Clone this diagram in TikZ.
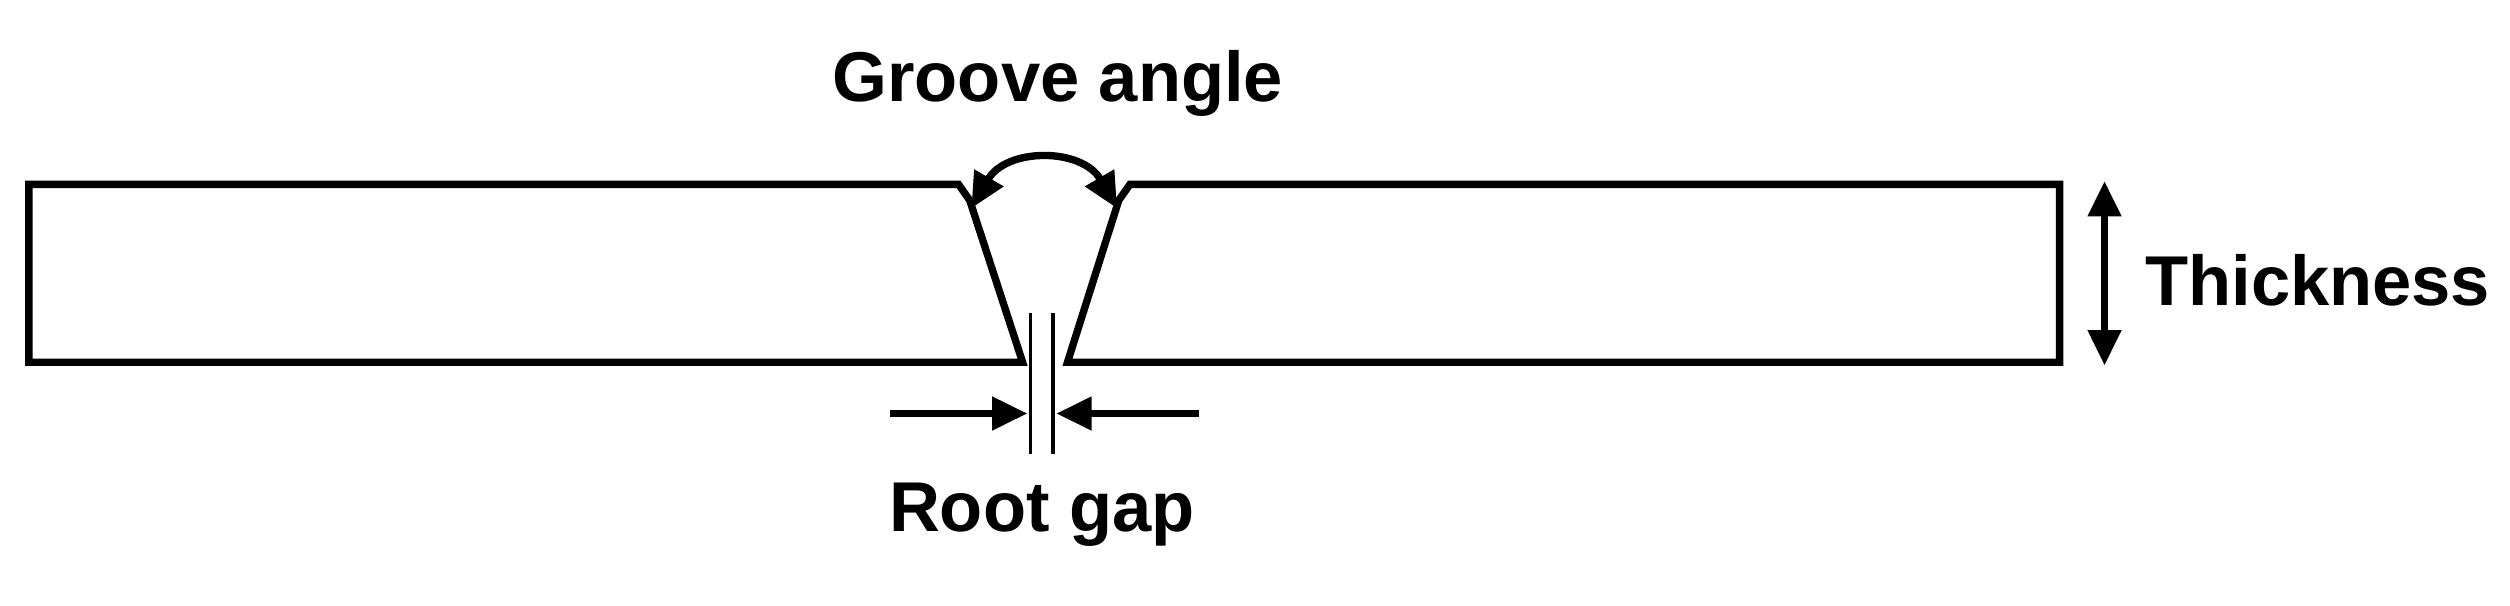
\documentclass[tikz,border=0pt]{standalone}
\usepackage{fontspec}
\setmainfont{Liberation Sans}
\usetikzlibrary{arrows.meta}
\begin{document}
\begin{tikzpicture}[x=0.5pt,y=-0.5pt,
  plate/.style={line width=2.3pt,line join=miter},
  dim/.style={line width=2.3pt,-{Triangle[length=11pt,width=10pt]}},
  dimb/.style={line width=2.3pt,{Triangle[length=11pt,width=10pt]}-{Triangle[length=11pt,width=10pt]}},
  lbl/.style={font=\fontsize{22}{26}\selectfont\bfseries,inner sep=0pt}]
\useasboundingbox (0,0) rectangle (1566,378);
\coordinate (L1) at (18,115); \coordinate (L2) at (598,115); \coordinate (L3) at (605,125);
\coordinate (L4) at (638,226); \coordinate (L5) at (18,226);
\coordinate (R1) at (1285,115); \coordinate (R2) at (705,115); \coordinate (R3) at (698,125);
\coordinate (R4) at (666,226); \coordinate (R5) at (1285,226);
\draw[plate] (L2) -- (L1) -- (L5) -- (L4) -- (L3) -- cycle;
\draw[plate] (R2) -- (R1) -- (R5) -- (R4) -- (R3) -- cycle;
\coordinate (A1) at (606,130); \coordinate (A2) at (697,130);
\draw[dimb] (A1) .. controls (628,92) and (675,92) .. (A2);
\coordinate (T1) at (1313,113); \coordinate (T2) at (1313,228);
\draw[dimb] (T1) -- (T2);
\draw[line width=1pt] (643,195) -- (643,283);
\draw[line width=1pt] (657,195) -- (657,283);
\coordinate (G1) at (555,258); \coordinate (G2) at (641,258);
\coordinate (G3) at (748,258); \coordinate (G4) at (659,258);
\draw[dim] (G1) -- (G2);
\draw[dim] (G3) -- (G4);
\node[lbl] (ga) at (660,52) {Groove angle};
\node[lbl,anchor=west] (th) at (1338,175) {Thickness};
\node[lbl] (rg) at (650,321) {Root gap};
\end{tikzpicture}
\end{document}
